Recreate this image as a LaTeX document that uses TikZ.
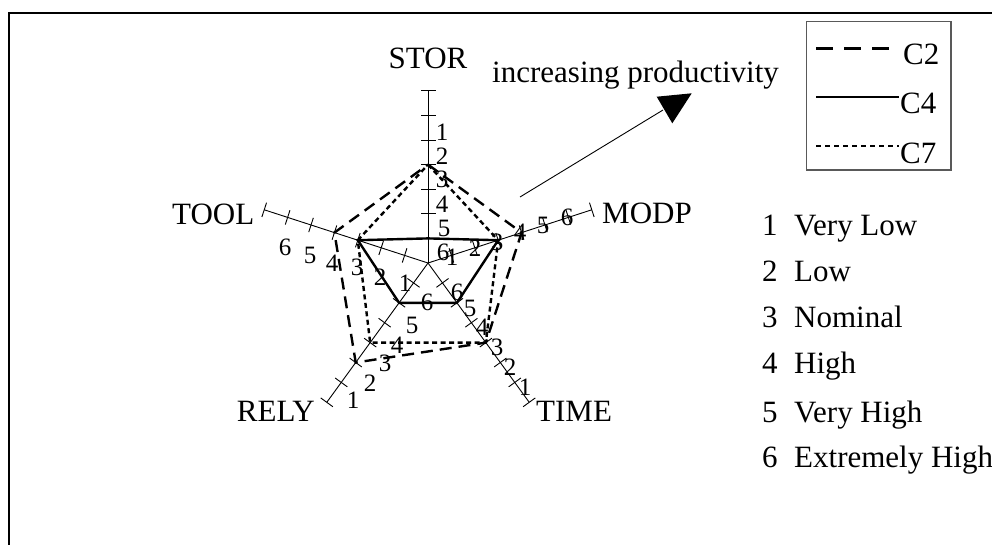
\documentclass[tikz,border=0pt]{standalone}
\usepackage{fontspec}
\setmainfont{Liberation Serif}
\begin{document}
\begin{tikzpicture}[x=1pt,y=-1pt,
  lbl/.style={font=\fontsize{31}{36}\selectfont, inner sep=0pt},
  ticklbl/.style={font=\fontsize{25}{30}\selectfont, inner sep=0pt},
  axisline/.style={line width=0.9pt},
  ctwo/.style={line width=2.4pt, dash pattern=on 12pt off 7pt},
  cfour/.style={line width=2.4pt},
  cseven/.style={line width=2.4pt, dash pattern=on 5pt off 3.5pt},
]
\useasboundingbox (0,0) rectangle (992,544);
\clip (0,0) rectangle (992,544);

% outer frame (open to the right and bottom)
\draw[line width=2pt] (8.5,560) -- (8.5,12.5) -- (1000,12.5);

% radar chart: five axes with seven ticks each
\begin{scope}[shift={(428,263)}, y=1pt]
  \coordinate (O) at (0,0);
  \foreach \n/\a in {stor/90, modp/18, time/-54, rely/-126, tool/162} {
    \begin{scope}[rotate=\a]
      \draw[axisline] (0,0) -- (172.2,0);
      \foreach \k in {1,...,7}
        \draw[axisline] (\k*24.6,-7.5) -- (\k*24.6,7.5);
    \end{scope}
  }
  % profile vertices
  \coordinate (a1) at (90:98.4);  \coordinate (a2) at (18:98.4);
  \coordinate (a3) at (-54:98.4); \coordinate (a4) at (-126:123);
  \coordinate (a5) at (162:98.4);
  \coordinate (b1) at (90:24.6);  \coordinate (b2) at (18:73.8);
  \coordinate (b3) at (-54:49.2); \coordinate (b4) at (-126:49.2);
  \coordinate (b5) at (162:73.8);
  \coordinate (d1) at (90:98.4);  \coordinate (d2) at (18:73.8);
  \coordinate (d3) at (-54:98.4); \coordinate (d4) at (-126:98.4);
  \coordinate (d5) at (162:73.8);
  \draw[cseven, line join=miter] (d1) -- (d2) -- (d3) -- (d4) -- (d5) -- cycle;
  \draw[ctwo, line join=miter] (a1) -- (a2) -- (a3) -- (a4) -- (a5) -- cycle;
  \draw[cfour, line join=miter] (b1) -- (b2) -- (b3) -- (b4) -- (b5) -- cycle;
\end{scope}

% scale labels along the axes
\foreach \t/\x/\y in {1/442/132, 2/442/156, 3/442/179, 4/442/204, 5/444/228, 6/443/252}
  \node[ticklbl] at (\x,\y) {\t};
\foreach \t/\x/\y in {1/452/257, 2/475/248, 3/497/242, 4/520/232, 5/543/225, 6/567/217}
  \node[ticklbl] at (\x,\y) {\t};
\foreach \t/\x/\y in {6/457/292, 5/470/308, 4/482/327, 3/497/347, 2/510/367, 1/525/387}
  \node[ticklbl] at (\x,\y) {\t};
\foreach \t/\x/\y in {6/427/302, 5/412/325, 4/397/345, 3/385/363, 2/370/383, 1/353/400}
  \node[ticklbl] at (\x,\y) {\t};
\foreach \t/\x/\y in {6/285/247, 5/310/255, 4/332/263, 3/357/267, 2/380/277, 1/405/283}
  \node[ticklbl] at (\x,\y) {\t};

% axis names
\node[lbl, anchor=base] (stor) at (428,68) {STOR};
\node[lbl, anchor=base west] (modp) at (602,223) {MODP};
\node[lbl, anchor=base west] (timelbl) at (536,421) {TIME};
\node[lbl, anchor=base east] (rely) at (315,421) {RELY};
\node[lbl, anchor=base west] (tool) at (172,224) {TOOL};

% productivity hint
\node[lbl, anchor=base west] (incr) at (492,82) {increasing productivity};
\coordinate (arrS) at (520,197);
\coordinate (arrE) at (663,110);
\draw[line width=0.9pt] (arrS) -- (arrE);
\coordinate (t1) at (656.7,96.7);
\coordinate (t2) at (691.7,93.3);
\coordinate (t3) at (672.3,123.3);
\fill (t1) -- (t2) -- (t3) -- cycle;

% legend box
\draw[black!65, line width=1.2pt] (806.7,21.7) rectangle (951,170);
\draw[line width=2.4pt, dash pattern=on 17pt off 11pt] (816,48.3) -- (890,48.3);
\node[lbl, anchor=base west] (lc2) at (903,64) {C2};
\draw[line width=2.2pt] (816,96.7) -- (899,96.7);
\node[lbl, anchor=base west] (lc4) at (900,113) {C4};
\draw[line width=2.4pt, dash pattern=on 5pt off 4pt] (816,145.7) -- (899,145.7);
\node[lbl, anchor=base west] (lc7) at (900,163) {C7};

% rating scale
\foreach \i/\txt/\y in {1/Very Low/235, 2/Low/281, 3/Nominal/327, 4/High/373, 5/Very High/422, 6/Extremely High/467} {
  \node[lbl, anchor=base west] at (762,\y) {\i};
  \node[lbl, anchor=base west] at (794,\y) {\txt};
}
\end{tikzpicture}
\end{document}
